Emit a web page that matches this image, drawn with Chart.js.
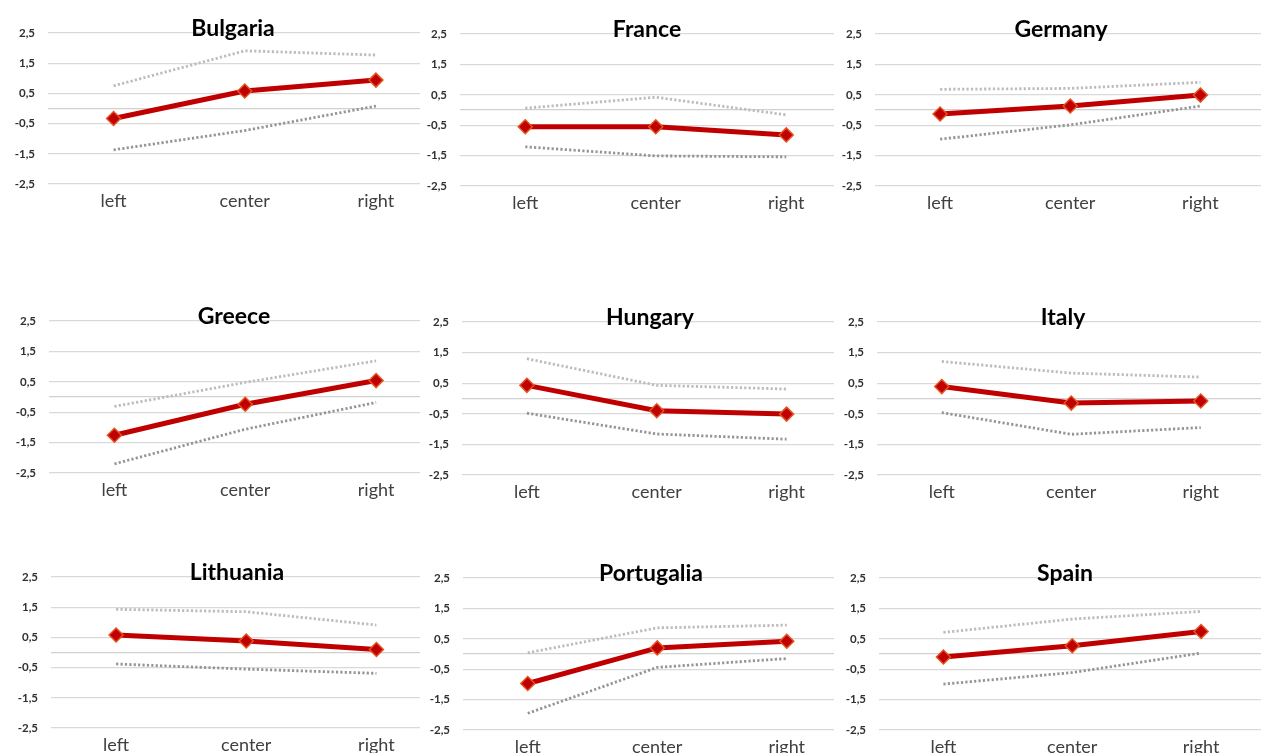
<!DOCTYPE html>
<html>
<head>
<style>
  html, body { margin: 0; padding: 0; background: #fff; overflow: hidden; }
  #wrap { position: relative; width: 1261px; height: 753px; overflow: hidden; }
  #wrap canvas { position: absolute; background: #fff; }
</style>
</head>
<body>
<script src="https://cdn.jsdelivr.net/npm/chart.js"></script>
<div id="wrap"></div>
<script>
    const countries = ['Bulgaria', 'France', 'Germany', 'Greece', 'Hungary', 'Italy', 'Lithuania', 'Portugalia', 'Spain'];
    const categories = ['left', 'center', 'right'];
    const yTicks = [2.5, 1.5, 0.5, -0.5, -1.5, -2.5];

    // red line (middle), dotted upper and lower bounds
    const meanValues = [
        [-0.33, 0.58, 0.94],
        [-0.55, -0.55, -0.82],
        [-0.13, 0.13, 0.49],
        [-1.26, -0.24, 0.54],
        [0.43, -0.40, -0.51],
        [0.39, -0.15, -0.08],
        [0.58, 0.38, 0.10],
        [-0.97, 0.20, 0.42],
        [-0.10, 0.27, 0.74]
    ];
    const upperValues = [
        [0.75, 1.91, 1.77],
        [0.06, 0.42, -0.16],
        [0.68, 0.71, 0.91],
        [-0.31, 0.48, 1.19],
        [1.30, 0.43, 0.31],
        [1.21, 0.83, 0.70],
        [1.43, 1.35, 0.91],
        [0.04, 0.86, 0.95],
        [0.71, 1.15, 1.40]
    ];
    const lowerValues = [
        [-1.37, -0.73, 0.08],
        [-1.21, -1.51, -1.54],
        [-0.96, -0.49, 0.13],
        [-2.20, -1.06, -0.18],
        [-0.48, -1.16, -1.33],
        [-0.46, -1.17, -0.95],
        [-0.38, -0.55, -0.69],
        [-1.95, -0.44, -0.15],
        [-0.99, -0.61, 0.03]
    ];

    // panel placement on the page: canvas left, grid top, grid bottom, plot left, title centre x
    const panelBox = [
        [0, 33, 184, 48, 233], [420, 34, 186, 460, 647], [834, 34, 186, 875, 1061],
        [0, 321, 473, 49, 234], [420, 322, 475, 462, 650], [834, 322, 475, 877, 1063],
        [0, 577, 728, 51, 237], [420, 578, 730, 463, 651], [834, 578, 730, 879, 1065]
    ];
    const plotWidth = 396;
    const topPad = 33;
    const xAxisHeight = 40;

    function fmt(v) {
        return String(v).replace('.', ',');
    }

    function makePanel(i) {
        const [left, gridTop, gridBottom, plotLeft, titleX] = panelBox[i];
        const width = left === 0 ? 450 : 440;
        const height = gridBottom - gridTop + topPad + xAxisHeight;
        const canvas = document.createElement('canvas');
        canvas.width = width;
        canvas.height = height;
        canvas.style.left = left + 'px';
        canvas.style.top = (gridTop - topPad) + 'px';
        document.getElementById('wrap').appendChild(canvas);

        const titlePlugin = {
            id: 'panelTitle' + i,
            afterDraw(chart) {
                const ctx = chart.ctx;
                ctx.save();
                ctx.font = 'bold 23px Lato';
                ctx.fillStyle = '#000';
                ctx.textAlign = 'center';
                ctx.textBaseline = 'middle';
                ctx.fillText(countries[i], titleX - left, chart.chartArea.top - 4);
                ctx.restore();
            }
        };

        new Chart(canvas, {
            type: 'line',
            data: {
                labels: categories,
                datasets: [{
                    data: meanValues[i],
                    borderColor: '#C00000',
                    borderWidth: 5,
                    pointStyle: 'rectRot',
                    pointRadius: 7,
                    pointBackgroundColor: '#C00000',
                    pointBorderColor: '#E4521E',
                    pointBorderWidth: 1.5,
                    tension: 0
                }, {
                    data: upperValues[i],
                    borderColor: '#BCBCBC',
                    borderWidth: 2.8,
                    borderDash: [2.2, 2.2],
                    pointRadius: 0,
                    tension: 0
                }, {
                    data: lowerValues[i],
                    borderColor: '#959595',
                    borderWidth: 2.8,
                    borderDash: [2.2, 2.2],
                    pointRadius: 0,
                    tension: 0
                }]
            },
            options: {
                responsive: false,
                animation: false,
                layout: { padding: { top: topPad, right: width - (plotLeft - left) - plotWidth, left: 0, bottom: 0 } },
                plugins: { legend: { display: false }, tooltip: { enabled: false } },
                scales: {
                    x: {
                        offset: true,
                        grid: { display: false, drawTicks: false },
                        border: { display: false },
                        ticks: { color: '#404040', padding: 6, font: { family: 'Lato', size: 18 } },
                        afterFit(s) { s.height = xAxisHeight; }
                    },
                    y: {
                        min: -2.5,
                        max: 2.5,
                        afterBuildTicks(s) {
                            s.ticks = yTicks.concat([0]).map(v => ({ value: v }));
                        },
                        afterFit(s) { s.width = plotLeft - left; },
                        border: { display: false },
                        grid: {
                            drawTicks: false,
                            color: ctx => ctx.tick && ctx.tick.value === 0 ? '#D0D0D0' : '#D9D9D9',
                            lineWidth: 1.2
                        },
                        ticks: {
                            padding: 13,
                            color: '#303030',
                            font: { family: 'Lato', size: 11.5, weight: 'bold' },
                            callback: v => v === 0 ? '' : fmt(v)
                        }
                    }
                }
            },
            plugins: [titlePlugin]
        });
    }

    for (let i = 0; i < countries.length; i++) {
        makePanel(i);
    }
</script>
</body>
</html>
